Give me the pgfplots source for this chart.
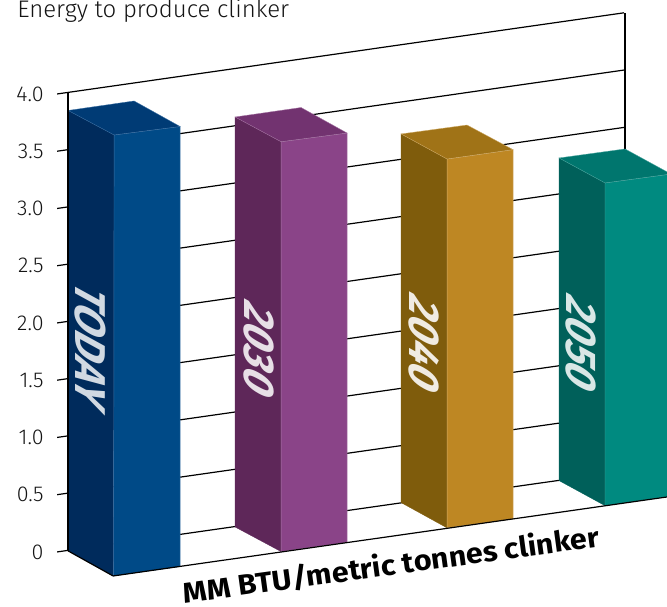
\documentclass[border=0pt]{standalone}
\usepackage{pgfplots}
\pgfplotsset{compat=1.18}
\usepackage{fontspec}
\setmainfont{Fira Sans}
\newfontfamily\lightf{Fira Sans Light}
\definecolor{bf}{HTML}{004A87}\definecolor{bs}{HTML}{002B5C}\definecolor{bt}{HTML}{003B75}\definecolor{bl}{HTML}{3F73A6}
\definecolor{pf}{HTML}{8A4488}\definecolor{ps}{HTML}{5E2759}\definecolor{pt}{HTML}{723370}\definecolor{pl}{HTML}{A878A6}
\definecolor{of}{HTML}{BE8723}\definecolor{os}{HTML}{7F5C0C}\definecolor{ot}{HTML}{A07317}\definecolor{ol}{HTML}{D2AE6C}
\definecolor{tf}{HTML}{008A80}\definecolor{ts}{HTML}{00605A}\definecolor{tt}{HTML}{00766E}\definecolor{tl}{HTML}{4FA8A1}
\begin{document}
\begin{tikzpicture}
\begin{axis}[
  width=667pt,height=607pt,scale only axis,
  xmin=0,xmax=667,ymin=-0.4803,ymax=4.8210,
  axis line style={draw=none},
  xtick=\empty,
  ytick={0,0.5,1,1.5,2,2.5,3,3.5,4},
  yticklabels={0,0.5,1.0,1.5,2.0,2.5,3.0,3.5,4.0},
  ytick pos=left,
  major tick length=0pt,
  yticklabel style={font=\lightf\fontsize{21.5}{21.5}\selectfont,color=black!92,anchor=east,xshift=47pt},
]
% back wall grid
\addplot[black,line width=1.2pt] coordinates {(57,0)(624,0.706)};
\addplot[black,line width=1.2pt] coordinates {(57,0.5)(624,1.206)};
\addplot[black,line width=1.2pt] coordinates {(57,1)(624,1.707)};
\addplot[black,line width=1.2pt] coordinates {(57,1.5)(624,2.207)};
\addplot[black,line width=1.2pt] coordinates {(57,2)(624,2.708)};
\addplot[black,line width=1.2pt] coordinates {(57,2.5)(624,3.208)};
\addplot[black,line width=1.2pt] coordinates {(57,3)(624,3.708)};
\addplot[black,line width=1.2pt] coordinates {(57,3.5)(624,4.209)};
\addplot[black,line width=1.2pt] coordinates {(57,4)(624,4.709)};
\addplot[black,line width=2pt] coordinates {(624.5,3.52)(624.5,4.709)};
% TODAY
\addplot[fill=bs,draw=bs,line width=.3pt] coordinates {(68,3.856)(114,3.642)(113.5,-0.21)(68,0.009)} --cycle;
\addplot[fill=bf,draw=bl,line width=.45pt] coordinates {(114,3.642)(180,3.716)(180,-0.128)(113.5,-0.21)} --cycle;
\addplot[fill=bt,draw=bl,line width=.35pt] coordinates {(68,3.856)(134,3.939)(180,3.716)(114,3.642)} --cycle;
% 2030
\addplot[fill=ps,draw=ps,line width=.3pt] coordinates {(235,3.799)(281,3.583)(281,0.003)(235,0.218)} --cycle;
\addplot[fill=pf,draw=pl,line width=.45pt] coordinates {(281,3.583)(347,3.659)(347,0.083)(281,0.003)} --cycle;
\addplot[fill=pt,draw=pl,line width=.35pt] coordinates {(235,3.799)(301,3.882)(347,3.659)(281,3.583)} --cycle;
% 2040
\addplot[fill=os,draw=os,line width=.3pt] coordinates {(401,3.651)(447,3.432)(447,0.21)(401,0.431)} --cycle;
\addplot[fill=of,draw=ol,line width=.45pt] coordinates {(447,3.432)(513,3.514)(513,0.288)(447,0.21)} --cycle;
\addplot[fill=ot,draw=ol,line width=.35pt] coordinates {(401,3.651)(467,3.729)(513,3.514)(447,3.432)} --cycle;
% 2050
\addplot[fill=ts,draw=ts,line width=.3pt] coordinates {(559,3.441)(605,3.223)(605,0.404)(559,0.623)} --cycle;
\addplot[fill=tf,draw=tl,line width=.45pt] coordinates {(605,3.223)(671,3.301)(671,0.486)(605,0.404)} --cycle;
\addplot[fill=tt,draw=tl,line width=.35pt] coordinates {(559,3.441)(625,3.52)(671,3.301)(605,3.223)} --cycle;
% front edge and left post on top
\addplot[black,line width=1.2pt] coordinates {(113,-0.21)(667,0.48)};
\addplot[black,line width=1.2pt] coordinates {(68,0.009)(113,-0.21)};
\addplot[black,line width=1.8pt] coordinates {(68,0.009)(68,4.012)};
% texts
\node[anchor=base west,inner sep=0pt,font=\lightf\fontsize{24}{24}\selectfont,color=black!92] at (axis cs:17,4.672) {Energy to produce clinker};
\node[anchor=base,inner sep=0pt,rotate=7.8,xscale=1.07,font=\bfseries\fontsize{28.5}{28.5}\selectfont] at (axis cs:392.5,-0.201) {MM BTU/metric tonnes clinker};
\node[inner sep=0pt,rotate=-90,xslant=0.55,xscale=0.94,font=\bfseries\fontsize{43}{43}\selectfont,color=white!82!bs] at (axis cs:90,1.785) {TODAY};
\node[inner sep=0pt,rotate=-90,xslant=0.55,xscale=0.95,font=\bfseries\fontsize{43}{43}\selectfont,color=white!85!ps] at (axis cs:259,1.764) {2030};
\node[inner sep=0pt,rotate=-90,xslant=0.55,xscale=0.95,font=\bfseries\fontsize{43}{43}\selectfont,color=white!88!os] at (axis cs:424,1.813) {2040};
\node[inner sep=0pt,rotate=-90,xslant=0.55,xscale=0.95,font=\bfseries\fontsize{43}{43}\selectfont,color=white!85!ts] at (axis cs:581,1.813) {2050};
\end{axis}
\end{tikzpicture}
\end{document}
